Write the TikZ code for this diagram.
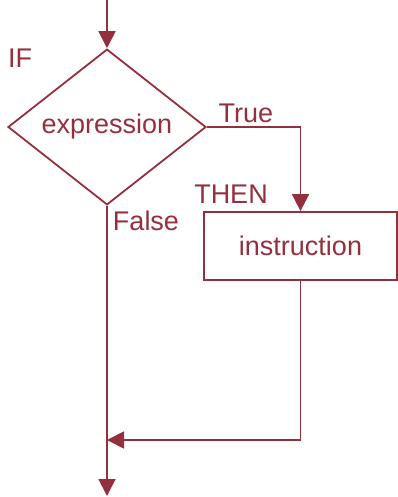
\documentclass[tikz,border=0pt]{standalone}
\usepackage{fontspec}
\setmainfont{Liberation Sans}
\usetikzlibrary{arrows.meta,shapes.geometric}
\definecolor{flowred}{RGB}{148,48,62}

\begin{document}
\begin{tikzpicture}[x=1pt,y=-1pt,line width=1.8pt,flowred,
    font=\fontsize{27}{32}\selectfont,
    flow/.style={-{Triangle[width=17pt,length=17pt]}}]
  \useasboundingbox (0,0) rectangle (397,497);
  % test and action boxes
  \node[diamond,draw,minimum width=198pt,minimum height=145pt,inner sep=0pt] (test) at (107,127) {expression};
  \node[draw,minimum width=193pt,minimum height=68pt,inner sep=0pt] (instr) at (300.5,246) {instruction};
  \coordinate (entry) at (107,0);
  \coordinate (join) at (107,440);
  \coordinate (exit) at (107,496);
  % connectors
  \draw[flow] (entry) -- (test.north);
  \draw[flow] (test.east) -| (instr.north);
  \draw[flow] (instr.south) |- (join);
  \draw[flow] (test.south) -- (exit);
  % keywords and branch names
  \node (if) at (20,58) {IF};
  \node (true) at (246,113) {True};
  \node (then) at (231,194) {THEN};
  \node (false) at (146,221) {False};
\end{tikzpicture}
\end{document}
